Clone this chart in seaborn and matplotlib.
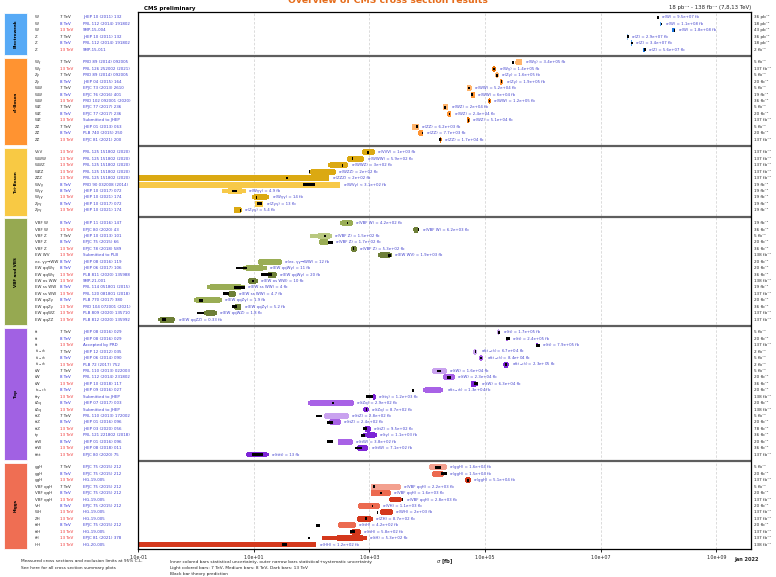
import numpy as np
import pandas as pd
import matplotlib
matplotlib.use("Agg")
import matplotlib.pyplot as plt
import matplotlib.transforms as mtransforms
from matplotlib.patches import Rectangle
from matplotlib.ticker import NullLocator
import seaborn as sns

sns.set_theme(style="white")
plt.rcParams["font.family"] = ["DejaVu Sans"]
plt.rcParams["mathtext.fontset"] = "dejavusans"

# --- groups ---
groups = ["Electroweak", "di-Boson", "Tri-Boson", "VBF and VBS", "Top", "Higgs"]
group_sizes = [6, 13, 10, 16, 20, 13]
group_colors = ["#4ea6f6", "#ff8d26", "#f8c63a", "#90a548", "#9c58e2", "#ef664a"]
shades = {
    "Electroweak": {7: "#92c5f7", 8: "#4a9ff0", 13: "#1a73dc"},
    "di-Boson": {7: "#ffb46b", 8: "#ff9433", 13: "#e97408"},
    "Tri-Boson": {8: "#f7c948", 13: "#dba912"},
    "VBF and VBS": {7: "#b9c880", 8: "#9aad55", 13: "#6e7f37"},
    "Top": {7: "#c9a2ef", 8: "#a862e6", 13: "#7d26d6"},
    "Higgs": {7: "#f3a08f", 8: "#ec6a50", 13: "#d4381c"},
}

tch = r"t$_{\rm t\text{-}ch}$".replace(r"\text{-}", "-")
sch = r"t$_{\rm s\text{-}ch}$".replace(r"\text{-}", "-")

process = [
    "W", "W", "W", "Z", "Z", "Z",
    "Wγ", "Wγ", "Zγ", "Zγ", "WW", "WW", "WW", "WZ", "WZ", "WZ", "ZZ", "ZZ", "ZZ",
    "VVV", "WWW", "WWZ", "WZZ", "ZZZ", "WVγ", "Wγγ", "Wγγ", "Zγγ", "Zγγ",
    "VBF W", "VBF W", "VBF Z", "VBF Z", "VBF Z", "EW WV", "ex. γγ→WW", "EW qqWγ", "EW qqWγ",
    "EW os WW", "EW ss WW", "EW ss WW", "EW qqZγ", "EW qqZγ", "EW qqWZ", "EW qqZZ",
    "tt", "tt", "tt", tch, tch, tch, "tW", "tW", "tW", sch, "ttγ", "tZq", "tZq",
    "ttZ", "ttZ", "ttZ", "tγ", "ttW", "ttW", "tttt",
    "ggH", "ggH", "ggH", "VBF qqH", "VBF qqH", "VBF qqH", "VH", "WH", "ZH", "ttH", "ttH", "tH", "HH",
]
energy = [
    7, 8, 13, 7, 8, 13,
    7, 13, 7, 8, 7, 8, 13, 7, 8, 13, 7, 8, 13,
    13, 13, 13, 13, 13, 8, 8, 13, 8, 13,
    8, 13, 7, 8, 13, 13, 8, 8, 13, 13, 8, 13, 8, 13, 13, 13,
    7, 8, 13, 7, 8, 13, 7, 8, 13, 8, 13, 8, 13, 7, 8, 13, 13, 8, 13, 13,
    7, 8, 13, 7, 8, 13, 8, 13, 13, 8, 13, 13, 13,
]
reference = [
    "JHEP 10 (2011) 132", "PRL 112 (2014) 191802", "SMP-15-004",
    "JHEP 10 (2011) 132", "PRL 112 (2014) 191802", "SMP-15-011",
    "PRD 89 (2014) 092005", "PRL 126 252002 (2021)", "PRD 89 (2014) 092005", "JHEP 04 (2015) 164",
    "EPJC 73 (2013) 2610", "EPJC 76 (2016) 401", "PRD 102 092001 (2020)", "EPJC 77 (2017) 236",
    "EPJC 77 (2017) 236", "Submitted to JHEP", "JHEP 01 (2013) 063", "PLB 740 (2015) 250",
    "EPJC 81 (2021) 200",
    "PRL 125 151802 (2020)", "PRL 125 151802 (2020)", "PRL 125 151802 (2020)",
    "PRL 125 151802 (2020)", "PRL 125 151802 (2020)", "PRD 90 032008 (2014)",
    "JHEP 10 (2017) 072", "JHEP 10 (2021) 174", "JHEP 10 (2017) 072", "JHEP 10 (2021) 174",
    "JHEP 11 (2016) 147", "EPJC 80 (2020) 43", "JHEP 10 (2013) 101", "EPJC 75 (2015) 66",
    "EPJC 78 (2018) 589", "Submitted to PLB", "JHEP 08 (2016) 119", "JHEP 06 (2017) 106",
    "PLB 811 (2020) 135988", "SMP-21-001", "PRL 114 051801 (2015)", "PRL 120 081801 (2018)",
    "PLB 770 (2017) 380", "PRD 104 072001 (2021)", "PLB 809 (2020) 135710", "PLB 812 (2020) 135992",
    "JHEP 08 (2016) 029", "JHEP 08 (2016) 029", "Accepted by PRD", "JHEP 12 (2012) 035",
    "JHEP 06 (2014) 090", "PLB 72 (2017) 752", "PRL 110 (2013) 022003", "PRL 112 (2014) 231802",
    "JHEP 10 (2018) 117", "JHEP 09 (2016) 027", "Submitted to JHEP", "JHEP 07 (2017) 003",
    "Submitted to JHEP", "PRL 110 (2013) 172002", "JHEP 01 (2016) 096", "JHEP 03 (2020) 056",
    "PRL 121 221802 (2018)", "JHEP 01 (2016) 096", "JHEP 08 (2018) 011", "EPJC 80 (2020) 75",
    "EPJC 75 (2015) 212", "EPJC 75 (2015) 212", "HIG-19-005", "EPJC 75 (2015) 212",
    "EPJC 75 (2015) 212", "HIG-19-005", "EPJC 75 (2015) 212", "HIG-19-005", "HIG-19-005",
    "EPJC 75 (2015) 212", "HIG-19-005", "EPJC 81 (2021) 378", "HIG-20-005",
]
lumi = [
    "36 pb⁻¹", "18 pb⁻¹", "43 pb⁻¹", "36 pb⁻¹", "18 pb⁻¹", "2 fb⁻¹",
    "5 fb⁻¹", "137 fb⁻¹", "5 fb⁻¹", "20 fb⁻¹", "5 fb⁻¹", "19 fb⁻¹", "36 fb⁻¹", "5 fb⁻¹",
    "20 fb⁻¹", "137 fb⁻¹", "5 fb⁻¹", "20 fb⁻¹", "137 fb⁻¹",
    "137 fb⁻¹", "137 fb⁻¹", "137 fb⁻¹", "137 fb⁻¹", "137 fb⁻¹",
    "19 fb⁻¹", "19 fb⁻¹", "19 fb⁻¹", "19 fb⁻¹", "19 fb⁻¹",
    "19 fb⁻¹", "36 fb⁻¹", "5 fb⁻¹", "20 fb⁻¹", "36 fb⁻¹", "138 fb⁻¹", "20 fb⁻¹", "20 fb⁻¹",
    "36 fb⁻¹", "138 fb⁻¹", "19 fb⁻¹", "137 fb⁻¹", "20 fb⁻¹", "36 fb⁻¹", "137 fb⁻¹", "137 fb⁻¹",
    "5 fb⁻¹", "20 fb⁻¹", "137 fb⁻¹", "2 fb⁻¹", "5 fb⁻¹", "2 fb⁻¹", "5 fb⁻¹", "20 fb⁻¹",
    "36 fb⁻¹", "20 fb⁻¹", "138 fb⁻¹", "20 fb⁻¹", "138 fb⁻¹", "5 fb⁻¹", "20 fb⁻¹", "78 fb⁻¹",
    "36 fb⁻¹", "20 fb⁻¹", "36 fb⁻¹", "137 fb⁻¹",
    "5 fb⁻¹", "20 fb⁻¹", "137 fb⁻¹", "5 fb⁻¹", "20 fb⁻¹", "137 fb⁻¹", "20 fb⁻¹", "137 fb⁻¹",
    "137 fb⁻¹", "20 fb⁻¹", "137 fb⁻¹", "137 fb⁻¹", "138 fb⁻¹",
]

# measured cross sections [fb] (value printed in the label)
measured = [
    9.5e7, 1.1e8, 1.8e8, 2.9e7, 3.4e7, 5.6e7,
    3.4e5, 1.4e5, 1.6e5, 1.9e5, 5.2e4, 6e4, 1.2e5, 2e4, 2.4e4, 5.1e4, 6.2e3, 7.7e3, 1.7e4,
    1e3, 5.9e2, 3e2, 2e2, 2e2, 3.1e2, 4.9, 14, 13, 5.4,
    4.2e2, 6.2e3, 1.5e2, 1.7e2, 5.3e2, 1.9e3, 12, 11, 20, 10, 4, 4.7, 1.9, 5.2, 1.8, 0.33,
    1.7e5, 2.4e5, 7.9e5, 6.7e4, 8.4e4, 2.3e5, 1.6e4, 2.3e4, 6.3e4, 1.3e4, 1.2e3, 2.9e2, 8.7e2,
    2.8e2, 2.4e2, 9.5e2, 1.1e3, 3.8e2, 7.1e2, 13,
    1.6e4, 1.5e4, 5.1e4, 2.2e3, 1.6e3, 2.8e3, 1.1e3, 2e3, 8.7e2, 4.2e2, 5.8e2, 5.3e2, 1.2e2,
]
is_limit = [p in ("ZZZ", "WVγ", "HH") for p in process]

nan = np.nan
# outer narrow bars: stat+syst range
total_lo = [
    9.3e7, 1.07e8, 1.72e8, 2.83e7, 3.3e7, 5.4e7,
    3.3e5, 1.33e5, 1.51e5, 1.8e5, 4.8e4, 5.64e4, 1.14e5, 1.85e4, 2.2e4, 4.8e4, 5.4e3, 6.9e3, 1.6e4,
    733, 404, 194, 91, nan, nan, 2.77, 9.2, 10.4, 4.5,
    313, 5.7e3, 93, 134, 473, 1.4e3, 11.9, 6.47, 16.6, 7.9, 1.52, 3.6, 0.93, 4.6, 1.39, 0.22,
    1.6e5, 2.3e5, 7.6e5, 6.25e4, 7.9e4, 2.05e5, 1.22e4, 1.89e4, 5.64e4, 8.5e3, 1.13e3, 87, 780,
    163, 202, 836, 782, 282, 615, 7.3,
    1.08e4, 1.22e4, 4.58e4, 1.06e3, 1.06e3, 2.15e3, 640, 1540, 615, 288, 460, 149, nan,
]
total_hi = [
    9.7e7, 1.13e8, 1.9e8, 2.97e7, 3.5e7, 5.8e7,
    4.4e5, 1.55e5, 1.74e5, 2.05e5, 5.9e4, 6.7e4, 1.26e5, 2.3e4, 2.6e4, 5.4e4, 7.2e3, 8.6e3, 1.8e4,
    1245, 813, 430, 263, nan, nan, 7.3, 18.5, 14.6, 6.2,
    516, 7.3e3, 222, 194, 601, 2.42e3, 30.3, 16.6, 24.8, 11.8, 7.0, 4.9, 2.77, 6.1, 2.27, 0.44,
    1.8e5, 2.5e5, 8.2e5, 7.33e4, 9.3e4, 2.6e5, 2.17e4, 3.01e4, 7.6e4, 1.89e4, 1.28e3, 540, 980,
    442, 318, 1062, 1334, 512, 953, 18.0,
    2.17e4, 1.95e4, 5.7e4, 3.47e3, 2.36e3, 3.6e3, 1520, 2520, 1140, 583, 713, 895, nan,
]
# inner thick bars: statistical range
stat_lo = [
    9.45e7, 1.09e8, 1.78e8, 2.88e7, 3.37e7, 5.55e7,
    3.4e5, 1.36e5, 1.53e5, 1.84e5, 4.87e4, 5.7e4, 1.16e5, 1.9e4, 2.25e4, 4.9e4, 5.5e3, 7.1e3, 1.65e4,
    773, 425, 207, 97, nan, nan, 3.57, 10, 10.6, 4.6,
    340, 5.9e3, 128, 139, 489, 1.51e3, 12.3, 7.3, 17.5, 8.4, 1.74, 3.7, 1.0, 4.8, 1.48, 0.24,
    1.68e5, 2.37e5, 7.8e5, 6.4e4, 8.1e4, 2.15e5, 1.26e4, 1.95e4, 5.8e4, 9.1e3, 1.15e3, 95, 800,
    170, 207, 852, 895, 285, 645, 7.7,
    1.11e4, 1.26e4, 4.67e4, 1.08e3, 1.08e3, 2.26e3, 658, 1610, 645, 297, 498, 274, nan,
]
stat_hi = [
    9.55e7, 1.11e8, 1.82e8, 2.92e7, 3.43e7, 5.65e7,
    4.3e5, 1.5e5, 1.7e5, 2.0e5, 5.8e4, 6.6e4, 1.24e5, 2.25e4, 2.55e4, 5.3e4, 7.1e3, 8.4e3, 1.75e4,
    1197, 773, 408, 253, nan, nan, 6.15, 16.9, 14.5, 6.1,
    500, 7.05e3, 207, 188, 583, 2.26e3, 29.4, 14.4, 23.7, 11.1, 6.0, 4.7, 2.6, 5.9, 2.12, 0.41,
    1.72e5, 2.43e5, 8.0e5, 7.1e4, 9.0e4, 2.5e5, 2.1e4, 2.96e4, 7.1e4, 1.76e4, 1.26e3, 520, 960,
    425, 309, 1040, 1245, 498, 906, 17.2,
    2.1e4, 1.9e4, 5.59e4, 3.37e3, 2.3e3, 3.51e3, 1490, 2450, 1080, 573, 686, 782, nan,
]
# black bars: theory prediction range
theory_lo = [
    9.5e7, 1.1e8, 1.85e8, 2.9e7, 3.4e7, 5.7e7,
    2.9e5, 1.38e5, 1.57e5, 1.88e5, 5.1e4, 5.8e4, 1.17e5, 1.98e4, 2.35e4, 5.0e4, 6.5e3, 8.0e3, 1.6e4,
    900, 494, 341, 89.8, 36.5, 71, 4.18, 11.1, 11.5, 5.8,
    405, 6.8e3, 165, 191, 525, 2.09e3, nan, 4.9, 13.3, 9.3, 4.6, 2.9, 1.13, 4.2, 1.05, 0.254,
    1.65e5, 2.35e5, 7.7e5, 6.6e4, 8.2e4, 2.2e5, 1.47e4, 2.17e4, 6.4e4, 5.5e3, 870, 227, 860,
    119, 186, 782, 713, 182, 561, 9.2,
    1.36e4, 1.73e4, 4.92e4, 1.17e3, 1.52e3, 3.6e3, 1100, 1350, 826, 119, 469, 86, 31,
]
theory_hi = [
    1.02e8, 1.17e8, 1.95e8, 3.05e7, 3.6e7, 6.0e7,
    3.2e5, 1.46e5, 1.65e5, 1.96e5, 5.5e4, 6.2e4, 1.23e5, 2.1e4, 2.45e4, 5.2e4, 6.9e3, 8.3e3, 1.7e4,
    990, 514, 355, 93.3, 39, 114, 5.1, 11.5, 14.0, 6.05,
    420, 7.2e3, 175, 234, 550, 2.36e3, nan, 7.5, 20.3, 10.0, 7.0, 3.75, 1.33, 5.2, 1.39, 0.298,
    1.85e5, 2.7e5, 8.8e5, 6.9e4, 8.7e4, 2.4e5, 1.73e4, 2.54e4, 7.6e4, 5.96e3, 1160, 246, 920,
    149, 231, 916, 836, 231, 733, 14.6,
    1.71e4, 2.17e4, 5.33e4, 1.25e3, 1.68e3, 3.85e3, 1170, 1420, 916, 139, 561, 92, 37,
]

energy_colors = {7: "#222222", 8: "#2b2bd9", 13: "#ee2a2a"}

df = pd.DataFrame({
    "process": process, "energy": energy, "ref": reference, "lumi": lumi,
    "meas": measured, "limit": is_limit,
    "tot_lo": total_lo, "tot_hi": total_hi, "st_lo": stat_lo, "st_hi": stat_hi,
    "th_lo": theory_lo, "th_hi": theory_hi,
})
df["group"] = np.repeat(groups, group_sizes)

# row positions: one empty row between groups
ypos, seps = [], []
row = 0
for gi, n in enumerate(group_sizes):
    ypos.extend(range(row, row + n))
    row += n
    if gi < len(group_sizes) - 1:
        seps.append(row)
        row += 1
df["y"] = ypos

XMIN, XMAX = 0.1, 4e9
YTOP, YBOT = -0.8, 82.77

fig = plt.figure(figsize=(7.76, 5.77), dpi=100)
ax = fig.add_axes([0.1782, 0.0477, 0.7896, 0.9310])
ax.set_xscale("log")
ax.set_xlim(XMIN, XMAX)
ax.set_ylim(YBOT, YTOP)

for dec in [1e1, 1e3, 1e5, 1e7, 1e9]:
    ax.axvline(dec, color="#d6d6d6", lw=0.6, ls=(0, (3, 2)), zorder=0)
for s in seps:
    ax.axhline(s, color="#5e5e5e", lw=1.6, zorder=1)

for _, r in df.iterrows():
    col = shades[r["group"]][r["energy"]]
    if r["limit"]:
        ax.barh(r["y"], r["meas"] - XMIN, left=XMIN, height=0.92, color=col, lw=0, zorder=2)
        right = r["meas"]
    else:
        ax.barh(r["y"], r["tot_hi"] - r["tot_lo"], left=r["tot_lo"], height=0.6,
                color=col, lw=0, zorder=2)
        ax.barh(r["y"], r["st_hi"] - r["st_lo"], left=r["st_lo"], height=0.92,
                color=col, lw=0, zorder=2)
        right = r["tot_hi"]
    if not np.isnan(r["th_lo"]):
        ax.barh(r["y"], r["th_hi"] - r["th_lo"], left=r["th_lo"], height=0.42,
                color="black", lw=0, zorder=3)
        right = max(right, r["th_hi"])
    rel = "<" if r["limit"] else "="
    ax.annotate(f"σ({r['process']}) {rel} {r['meas']:.2g} fb", xy=(right, r["y"]),
                xytext=(2.5, 0), textcoords="offset points", va="center", ha="left",
                fontsize=2.8, color="#4040cc", zorder=4)

# left-hand table and right-hand luminosities
trans = mtransforms.blended_transform_factory(fig.transFigure, ax.transData)
for _, r in df.iterrows():
    ax.text(35 / 776, r["y"], r["process"], transform=trans, fontsize=2.9,
            va="center", color="#333333")
    ax.text(60 / 776, r["y"], f"{r['energy']} TeV", transform=trans, fontsize=2.9,
            va="center", color=energy_colors[r["energy"]])
    ax.text(83 / 776, r["y"], r["ref"], transform=trans, fontsize=2.9,
            va="center", color="#3b3bd0")
    ax.text(754 / 776, r["y"], r["lumi"], transform=trans, fontsize=3.0,
            va="center", color="#222222")

bounds = [YTOP] + seps + [YBOT]
for gi, name in enumerate(groups):
    top = bounds[gi] + (0.08 if gi == 0 else 0.25)
    bot = bounds[gi + 1] - (0.08 if gi == len(groups) - 1 else 0.1)
    box = Rectangle((4.3 / 776, top), 23 / 776, bot - top, transform=trans,
                    facecolor=group_colors[gi], edgecolor="white", lw=0.6,
                    alpha=0.95, clip_on=False)
    ax.add_patch(box)
    ax.text(15.8 / 776, (top + bot) / 2, name, transform=trans, rotation=90,
            ha="center", va="center", fontsize=3.0, fontweight="bold", color="black")

ax.set_xticks([1e-1, 1e1, 1e3, 1e5, 1e7, 1e9])
ax.set_xticklabels(["1.0e-01", "1.0e+01", "1.0e+03", "1.0e+05", "1.0e+07", "1.0e+09"])
ax.xaxis.set_minor_locator(NullLocator())
ax.set_yticks([])
ax.tick_params(axis="x", length=2.5, width=0.6, labelsize=3.4, pad=1.5, direction="out",
               bottom=True, color="black")
for sp in ax.spines.values():
    sp.set_color("black")
    sp.set_linewidth(0.9)

fig.text(0.5, 1 - 3 / 577, "Overview of CMS cross section results", ha="center",
         va="baseline", fontsize=6.7, fontweight="bold", color="#e56c1b")
fig.text(144.3 / 776, 1 - 10 / 577, "CMS preliminary", ha="left", va="baseline",
         fontsize=4.0, fontweight="bold", color="black")
fig.text(751 / 776, 1 - 9.5 / 577, "18 pb⁻¹ - 138 fb⁻¹ (7,8,13 TeV)", ha="right",
         va="baseline", fontsize=3.9, color="#222222")
fig.text(444.5 / 776, 1 - 563.5 / 577, r"$\sigma$ [fb]", ha="center", va="baseline",
         fontsize=3.8, fontweight="bold")
fig.text(734 / 776, 1 - 560.5 / 577, "Jan 2022", ha="left", va="baseline",
         fontsize=3.6, fontweight="bold")
fig.text(20.7 / 776, 1 - 562.5 / 577,
         "Measured cross sections and exclusion limits at 95% C.L.", fontsize=3.1,
         va="baseline", color="#222222")
fig.text(20.7 / 776, 1 - 569 / 577, "See here for all cross section summary plots",
         fontsize=3.1, va="baseline", color="#222222")
notes = ["Inner colored bars statistical uncertainty, outer narrow bars statistical+systematic uncertainty",
         "Light colored bars: 7 TeV, Medium bars: 8 TeV, Dark bars: 13 TeV",
         "Black bar theory prediction"]
for k, line in enumerate(notes):
    fig.text(170 / 776, 1 - (562.5 + 6.5 * k) / 577, line, fontsize=3.1, va="baseline",
             color="#222222")

fig.savefig("out.png", dpi=100)
